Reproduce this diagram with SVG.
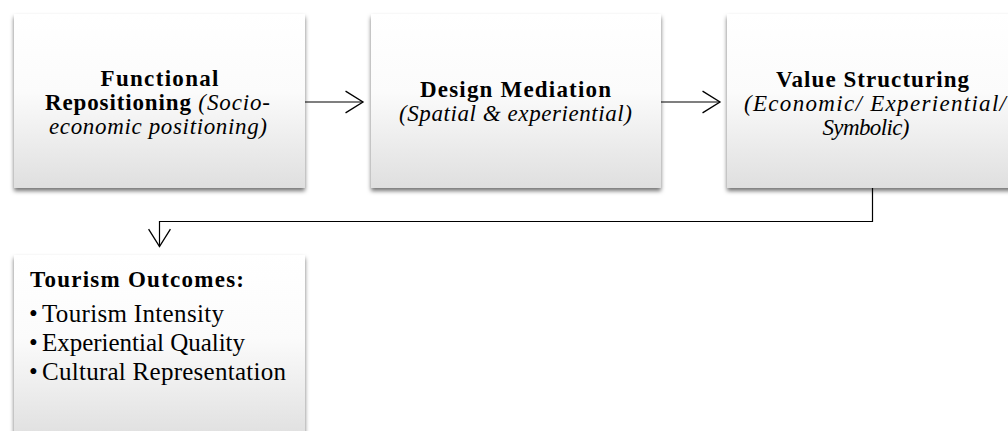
<svg xmlns="http://www.w3.org/2000/svg" width="1008" height="431" viewBox="0 0 1008 431">
  <style>
    .box { fill: url(#boxGrad); filter: url(#shadow); }
    .t { font-family: "Liberation Serif", "Times New Roman", serif; fill: #000; }
    .b { font-weight: bold; }
    .i { font-style: italic; }
    .n { font-size: 23px; }
    .l { font-size: 25px; }
    .conn { fill: none; stroke: #000; stroke-width: 1.2; }
  </style>
  <defs>
    <linearGradient id="boxGrad" x1="0" y1="0" x2="0" y2="1">
      <stop offset="0" stop-color="#ffffff"/>
      <stop offset="0.45" stop-color="#fbfbfb"/>
      <stop offset="1" stop-color="#dfdfdf"/>
    </linearGradient>
    <filter id="shadow" x="-5%" y="-5%" width="110%" height="115%">
      <feDropShadow dx="0" dy="3" stdDeviation="2" flood-color="#000" flood-opacity="0.55"/>
    </filter>
    <marker id="open" markerUnits="userSpaceOnUse" markerWidth="20" markerHeight="24" viewBox="0 0 18 22" refX="16.5" refY="11" orient="auto">
      <path d="M0.5,1 L16.5,11 L0.5,21" fill="none" stroke="#000" stroke-width="1.2"/>
    </marker>
  </defs>
  <rect width="1008" height="431" fill="#ffffff"/>

  <g id="node-functional">
    <rect class="box" x="14" y="14" width="291" height="174"/>
    <text class="t b n" x="159.5" y="86" text-anchor="middle" textLength="118">Functional</text>
    <text class="t n" x="45" y="110" textLength="225"><tspan class="b">Repositioning</tspan><tspan class="i"> (Socio-</tspan></text>
    <text class="t i n" x="158" y="134" text-anchor="middle" textLength="218">economic positioning)</text>
  </g>

  <g id="node-design">
    <rect class="box" x="371" y="14" width="290" height="174"/>
    <text class="t b n" x="515.5" y="97" text-anchor="middle" textLength="191">Design Mediation</text>
    <text class="t i n" x="515.5" y="121" text-anchor="middle" textLength="233">(Spatial &amp; experiential)</text>
  </g>

  <g id="node-value">
    <rect class="box" x="727" y="14" width="291" height="174"/>
    <text class="t b n" x="872.5" y="87" text-anchor="middle" textLength="193">Value Structuring</text>
    <text class="t i n" x="875" y="111" text-anchor="middle" textLength="262">(Economic/ Experiential/</text>
    <text class="t i n" x="866" y="135" text-anchor="middle" textLength="87">Symbolic)</text>
  </g>

  <g id="node-tourism">
    <rect class="box" x="14" y="255" width="291" height="185"/>
    <text class="t b n" x="30" y="287" textLength="214">Tourism Outcomes:</text>
    <text class="t l" x="29" y="322" font-size="20">•</text>
    <text class="t l" x="42" y="322" textLength="182">Tourism Intensity</text>
    <text class="t l" x="29" y="351" font-size="20">•</text>
    <text class="t l" x="42" y="351" textLength="203">Experiential Quality</text>
    <text class="t l" x="29" y="380" font-size="20">•</text>
    <text class="t l" x="42" y="380" textLength="244">Cultural Representation</text>
  </g>

  <g id="connectors">
    <path class="conn" d="M305,102 H363" marker-end="url(#open)"/>
    <path class="conn" d="M661,102 H720" marker-end="url(#open)"/>
    <path class="conn" d="M872.5,188 V221.5 H159.5 V246.5" marker-end="url(#open)"/>
  </g>
</svg>
